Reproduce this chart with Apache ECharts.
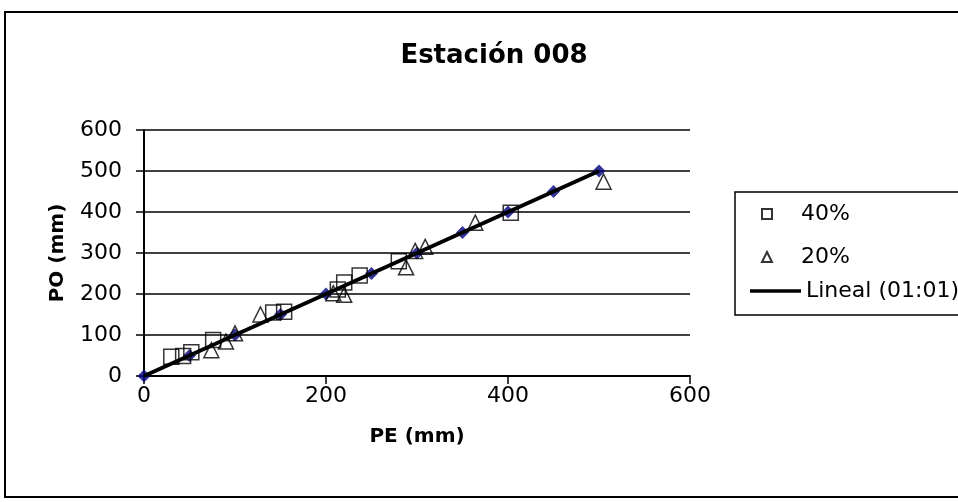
<!DOCTYPE html>
<html>
<head>
<meta charset="utf-8">
<script src="https://cdn.jsdelivr.net/npm/echarts@6/dist/echarts.min.js"></script>
<style>
  html, body { margin: 0; padding: 0; background: #fff; }
  #chart { width: 958px; height: 502px; }
</style>
</head>
<body>
<div id="chart"></div>
<script>
// PE vs PO (mm) for station 008, two thresholds plus the 1:1 reference series and its linear trend
const xTicks = [0, 200, 400, 600];
const yTicks = [0, 100, 200, 300, 400, 500, 600];

const pct40 = [
  [30, 47], [43, 49], [52, 58], [76, 88], [142, 155], [154, 157],
  [213, 211], [220, 228], [237, 245], [280, 280], [403, 398]
];
const pct20 = [
  [74, 63], [90, 84], [100, 104], [128, 150], [208, 202], [220, 198],
  [288, 265], [298, 305], [309, 315], [364, 374], [505, 474]
];
const ref11 = [
  [0, 0], [50, 50], [100, 100], [150, 150], [200, 200], [250, 250],
  [300, 300], [350, 350], [400, 400], [450, 450], [500, 500]
];

const FONT = 'DejaVu Sans';

const chart = echarts.init(document.getElementById('chart'), null, { renderer: 'canvas' });

chart.setOption({
  animation: false,
  backgroundColor: '#ffffff',
  title: {
    text: 'Estación 008',
    left: 489,
    textAlign: 'center',
    top: 38,
    textStyle: { fontFamily: FONT, fontSize: 26, fontWeight: 'bold', color: '#000' }
  },
  grid: { left: 144, right: 268, top: 130, bottom: 126, containLabel: false },
  xAxis: {
    type: 'value',
    min: xTicks[0], max: xTicks[xTicks.length - 1], interval: 200,
    name: 'PE (mm)', nameLocation: 'middle', nameGap: 51,
    nameTextStyle: { fontFamily: FONT, fontSize: 20, fontWeight: 'bold', color: '#000' },
    axisLine: { show: true, onZero: false, lineStyle: { color: '#000', width: 2 } },
    axisTick: { show: true, length: 8, lineStyle: { color: '#000', width: 1.5 } },
    axisLabel: { margin: 9, fontFamily: FONT, fontSize: 22, color: '#000' },
    splitLine: { show: false }
  },
  yAxis: {
    type: 'value',
    min: yTicks[0], max: yTicks[yTicks.length - 1], interval: 100,
    name: 'PO (mm)', nameLocation: 'middle', nameGap: 76,
    nameTextStyle: { fontFamily: FONT, fontSize: 20, fontWeight: 'bold', color: '#000' },
    axisLine: { show: true, onZero: false, lineStyle: { color: '#000', width: 2 } },
    axisTick: { show: true, length: 8, lineStyle: { color: '#000', width: 1.5 } },
    axisLabel: { margin: 22, fontFamily: FONT, fontSize: 22, color: '#000' },
    splitLine: { show: true, lineStyle: { color: '#000', width: 1.5 } }
  },
  legend: [
    {
      data: ['40%', '20%'],
      orient: 'vertical',
      left: 756, top: 198,
      itemWidth: 10, itemHeight: 10, itemGap: 21,
      textStyle: { fontFamily: FONT, fontSize: 22, color: '#000', padding: [0, 0, 0, 24] }
    },
    {
      data: [{ name: 'Lineal (01:01)', icon: 'rect', itemStyle: { color: '#000' } }],
      left: 745, top: 275,
      itemWidth: 51, itemHeight: 3.5,
      textStyle: { fontFamily: FONT, fontSize: 22, color: '#000' }
    }
  ],
  graphic: [
    {
      type: 'rect', silent: true, z: -1,
      shape: { x: 5, y: 12, width: 965, height: 485 },
      style: { fill: 'none', stroke: '#000', lineWidth: 2 }
    },
    {
      type: 'rect', silent: true,
      shape: { x: 735, y: 192, width: 240, height: 123 },
      style: { fill: '#fff', stroke: '#000', lineWidth: 1.5 }
    }
  ],
  series: [
    {
      name: '01:01', type: 'scatter', data: ref11,
      symbol: 'diamond', symbolSize: 13,
      itemStyle: { color: '#000080' },
      z: 2
    },
    {
      name: '40%', type: 'scatter', data: pct40,
      symbol: 'rect', symbolSize: 15,
      itemStyle: { color: 'rgba(255,255,255,0)', borderColor: '#000', borderWidth: 1.5 },
      z: 3
    },
    {
      name: '20%', type: 'scatter', data: pct20,
      symbol: 'triangle', symbolSize: 15,
      itemStyle: { color: 'rgba(255,255,255,0)', borderColor: '#000', borderWidth: 1.5 },
      z: 3
    },
    {
      name: 'Lineal (01:01)', type: 'line', data: ref11,
      showSymbol: false, symbol: 'none',
      lineStyle: { color: '#000', width: 4 },
      itemStyle: { color: '#000' },
      z: 5
    }
  ]
});
</script>
</body>
</html>
